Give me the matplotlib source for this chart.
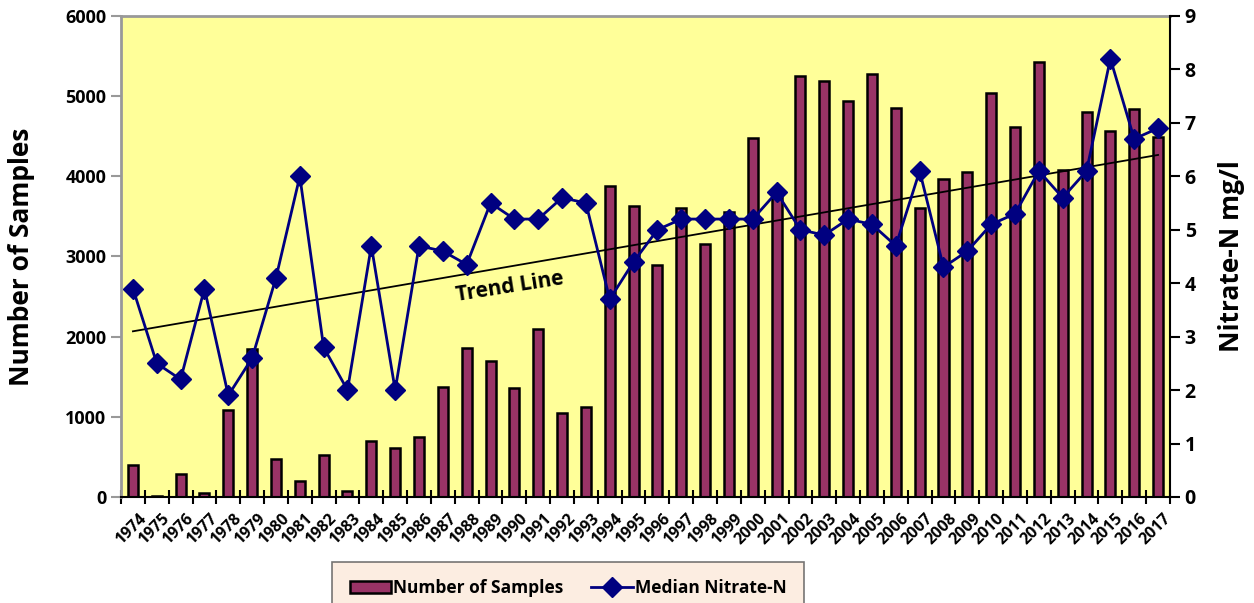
import numpy as np
import matplotlib.pyplot as plt
from matplotlib.transforms import Affine2D

plt.rcParams['font.family'] = ['Open Sans', 'DejaVu Sans']

years = list(range(1974, 2018))
samples = [400, 10, 290, 50, 1085, 1850, 470, 200, 520, 70,
           700, 610, 750, 1370, 1860, 1700, 1360, 2090, 1050, 1120,
           3880, 3630, 2890, 3600, 3150, 3560, 4480, 3790, 5250, 5190,
           4940, 5280, 4850, 3600, 3970, 4050, 5040, 4610, 5430, 4080,
           4800, 4570, 4840, 4490]
nitrate = [3.9, 2.5, 2.2, 3.9, 1.9, 2.6, 4.1, 6.0, 2.8, 2.0,
           4.7, 2.0, 4.7, 4.6, 4.35, 5.5, 5.2, 5.2, 5.6, 5.5,
           3.7, 4.4, 5.0, 5.2, 5.2, 5.2, 5.2, 5.7, 5.0, 4.9,
           5.2, 5.1, 4.7, 6.1, 4.3, 4.6, 5.1, 5.3, 6.1, 5.6,
           6.1, 8.2, 6.7, 6.9]
trend_ends = [3.1, 6.4]

x = np.arange(len(years))

fig = plt.figure(figsize=(12.54, 6.03), dpi=100)
ax = fig.add_axes([0.0965, 0.1758, 0.8365, 0.7977])
ax.set_facecolor('#FFFF99')
bars = ax.bar(x, samples, width=0.42, color='#993366', edgecolor='black',
              linewidth=1.8, label='Number of Samples', zorder=2)
ax.set_xlim(-0.5, len(years) - 0.5)
ax.set_ylim(0, 6000)
ax.set_yticks(range(0, 6001, 1000))
ax.tick_params(axis='y', colors='#999999', length=7, width=1.5,
               labelsize=13, labelcolor='black')
for lab in ax.get_yticklabels():
    lab.set_fontweight('bold')
ax.set_ylabel('Number of Samples', fontsize=19, fontweight='bold')
ax.yaxis.set_label_coords(-0.082, 0.5)

# x ticks at category boundaries, labels centered
ax.set_xticks(np.arange(-0.5, len(years)), minor=False)
ax.set_xticklabels([])
ax.tick_params(axis='x', which='major', direction='inout', length=10, width=1.5)
ax.set_xticks(x, minor=True)
ax.set_xticklabels([str(y) for y in years], minor=True, rotation=45,
                   ha='right', rotation_mode='anchor', fontsize=11.5,
                   fontweight='bold')
ax.tick_params(axis='x', which='minor', length=0, pad=10)
for lab in ax.get_xticklabels(minor=True):
    lab.set_transform(lab.get_transform() + Affine2D().translate(5, 0))

for side in ['top', 'left']:
    ax.spines[side].set_color('#999999')
    ax.spines[side].set_linewidth(2)
ax.spines['bottom'].set_color('black')
ax.spines['bottom'].set_linewidth(1.5)
ax.spines['right'].set_visible(False)

ax2 = ax.twinx()
line, = ax2.plot(x, nitrate, color='#000080', lw=2, marker='D', markersize=10,
                 label='Median Nitrate-N', zorder=4)
ax2.plot([x[0], x[-1]], trend_ends, color='black', lw=1.3, zorder=3)
ax2.set_ylim(0, 9)
ax2.set_yticks(range(0, 10))
ax2.tick_params(axis='y', length=7, width=1.5, labelsize=14)
for lab in ax2.get_yticklabels():
    lab.set_fontweight('bold')
ax2.spines['right'].set_color('black')
ax2.spines['right'].set_linewidth(1.5)
for side in ['top', 'left', 'bottom']:
    ax2.spines[side].set_visible(False)
ax2.set_ylabel('Nitrate-N mg/l', fontsize=19, fontweight='bold')
ax2.yaxis.set_label_coords(1.046, 0.5)
ax2.text(15.8, 3.93, 'Trend Line', fontsize=15, fontweight='bold',
         rotation=9, ha='center', va='center')

leg = fig.legend(handles=[bars, line], loc='upper center',
                 bbox_to_anchor=(568 / 1254, 1 - 562 / 603), ncol=2,
                 frameon=True, fancybox=False,
                 prop={'weight': 'bold', 'size': 12.5}, handlelength=2.4,
                 handletextpad=0.1, columnspacing=1.6,
                 borderpad=1.0, borderaxespad=0)
leg.get_frame().set_facecolor('#FCE9DA')
leg.get_frame().set_edgecolor('#555555')
leg.get_frame().set_linewidth(1.2)

fig.savefig('out.png', dpi=100)
